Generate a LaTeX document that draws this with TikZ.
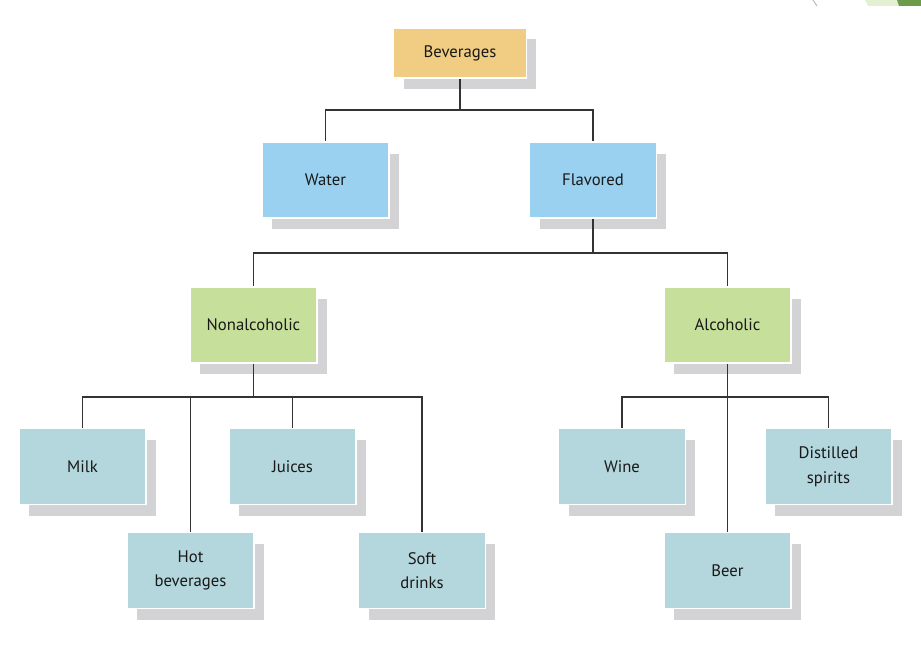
\documentclass[tikz,border=0pt]{standalone}
\usepackage{fontspec}
\setmainfont{PT Sans}
\usetikzlibrary{shadows}
\definecolor{bevorange}{HTML}{F0CD82}
\definecolor{flavblue}{HTML}{9AD1F1}
\definecolor{alcgreen}{HTML}{C6E09B}
\definecolor{leafblue}{HTML}{B4D6DD}
\definecolor{shadowgray}{HTML}{D3D3D5}
\definecolor{linegray}{HTML}{333333}
\definecolor{cornerlight}{HTML}{E4F0D2}
\definecolor{cornerdark}{HTML}{6C9B4A}

\begin{document}
\begin{tikzpicture}[x=0.02cm, y=-0.02cm,
  box/.style={draw=white, line width=0.8pt, minimum width=2.54cm,
    minimum height=1.52cm, align=center, text=black!90,
    font=\fontsize{9.5}{14}\selectfont,
    drop shadow={shadow xshift=0.2cm, shadow yshift=-0.23cm,
      fill=shadowgray, opacity=1}},
  topbox/.style={box, fill=bevorange, minimum width=2.66cm, minimum height=1.0cm},
  midbox/.style={box, fill=flavblue},
  alcbox/.style={box, fill=alcgreen},
  leafbox/.style={box, fill=leafblue},
  conn/.style={draw=linegray, line width=0.9pt}]
  \useasboundingbox (0,0) rectangle (921,658);
  % corner marks of the page
  \draw[gray!50, line width=0.6pt] (813,0) .. controls (814,3) .. (817,6);
  \fill[cornerlight] (865,0) -- (899,0) -- (901,6) -- (868,6) -- cycle;
  \fill[cornerdark] (897,0) -- (921,0) -- (921,6) -- (899,6) -- cycle;
  % draw boxes
  \node[topbox]  (bev)    at (460,53)    {Beverages};
  \node[midbox]  (water)  at (325.5,180) {Water};
  \node[midbox]  (flav)   at (593,180)   {Flavored};
  \node[alcbox]  (nonalc) at (253.5,325) {Nonalcoholic};
  \node[alcbox]  (alc)    at (727.5,325) {Alcoholic};
  \node[leafbox] (milk)   at (82.5,466.5)  {Milk};
  \node[leafbox] (juices) at (292.5,466.5) {Juices};
  \node[leafbox] (hot)    at (190.5,570.5) {Hot\\beverages};
  \node[leafbox] (soft)   at (422,570.5)   {Soft\\drinks};
  \node[leafbox] (wine)   at (622,466.5)   {Wine};
  \node[leafbox] (spirit) at (828.5,466.5) {Distilled\\spirits};
  \node[leafbox] (beer)   at (727.5,570.5) {Beer};
  % draw junctions
  \coordinate (j0) at (460,110);
  \coordinate (j1) at (593,253);
  \coordinate (j2) at (253.5,397);
  \coordinate (j3) at (727.5,397);
  % draw connectors
  \draw[conn] (bev.south) -- (j0) -| (water.north);
  \draw[conn] (j0) -| (flav.north);
  \draw[conn] (flav.south) -- (j1) -| (nonalc.north);
  \draw[conn] (j1) -| (alc.north);
  \draw[conn] (nonalc.south) -- (j2) -| (milk.north);
  \draw[conn] (j2) -| (hot.north);
  \draw[conn] (j2) -| (juices.north);
  \draw[conn] (j2) -| (soft.north);
  \draw[conn] (alc.south) -- (j3) -| (wine.north);
  \draw[conn] (j3) -- (beer.north);
  \draw[conn] (j3) -| (spirit.north);
\end{tikzpicture}
\end{document}
